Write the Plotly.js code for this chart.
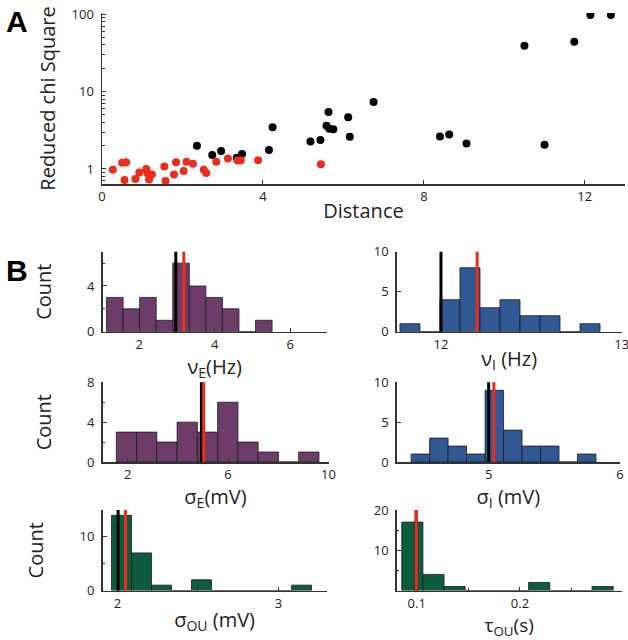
<!DOCTYPE html>
<html>
<head>
<meta charset="utf-8">
<script src="https://cdn.plot.ly/plotly-3.0.1.min.js"></script>
<style>html,body{margin:0;padding:0;background:#fff;}#chart{width:628px;height:640px;}</style>
</head>
<body>
<div id="chart"></div>
<script>
// ---------- Panel A data ----------
const redDistance = [0.27,0.50,0.60,0.56,0.83,0.93,1.10,1.13,1.17,1.24,1.55,1.58,1.79,1.84,2.03,2.10,2.26,2.53,2.59,2.84,3.13,3.37,3.45,3.88,5.44];
const redChi      = [0.98,1.20,1.22,0.72,0.74,0.90,1.00,0.88,0.73,0.85,1.08,0.70,0.85,1.22,0.94,1.24,1.17,0.98,0.89,1.24,1.36,1.29,1.30,1.30,1.15];
const blackDistance = [2.36,2.74,2.96,3.35,3.48,4.15,4.24,5.18,5.43,5.63,5.58,5.65,5.75,6.12,6.16,6.75,8.40,8.63,9.06,10.50,11.00,11.74,12.14,12.65];
const blackChi      = [1.99,1.51,1.71,1.40,1.56,1.76,3.45,2.26,2.36,5.44,3.60,3.30,3.25,4.65,2.60,7.30,2.62,2.78,2.13,39,2.05,44,97,97];
const distTicks = [0,4,8,12];
const chiTicks = [1,10,100];

// ---------- Panel B histograms ----------
const nuE_start = 1.137, nuE_width = 0.438;
const nuE_counts = [3,2,3,1,6,4,3,2,0,1];
const nuE_lines = [2.97, 3.18];        // black, red
const nuI_start = 11.773, nuI_width = 0.1107;
const nuI_counts = [1,0,4,8,3,4,2,2,0,1];
const nuI_lines = [12.0, 12.2];
const sigE_start = 1.55, sigE_width = 0.807;
const sigE_counts = [3,3,2,4,3,6,2,1,0,1];
const sigE_lines = [4.94, 5.03];
const sigI_start = 4.41, sigI_width = 0.1407;
const sigI_counts = [1,3,2,1,9,4,2,2,0,1];
const sigI_lines = [5.0, 5.04];
const sigOU_start = 1.963, sigOU_width = 0.1243;
const sigOU_counts = [14,7,1,0,2,0,0,0,0,1];
const sigOU_lines = [2.004, 2.05];
const tauOU_start = 0.0855, tauOU_width = 0.02048;
const tauOU_counts = [17,4,1,0,0,0,2,0,0,1];
const tauOU_lines = [0.0994, 0.0996];

const PURPLE = '#6e3c69', BLUE = '#2f5895', GREEN = '#0f5b3d';
const RED = '#ec2d1e';
const W = 628, H = 640;
const FONT = 'Open Sans, Noto Sans, sans-serif';
const AX = '#333';

function px(a,b){ return [a/W, b/W]; }
function py(top,bottom){ return [1-bottom/H, 1-top/H]; }

function barTrace(start, width, counts, color, xa, ya){
  const xs = counts.map((c,i)=> start + (i+0.5)*width);
  return {type:'bar', x: xs, y: counts, width: counts.map(()=>width),
    marker:{color: color, line:{color:'#1c1c1c', width:0.8}},
    xaxis: xa, yaxis: ya, hoverinfo:'skip', showlegend:false};
}

const traces = [
  {type:'scatter', mode:'markers', x: blackDistance, y: blackChi,
   marker:{color:'#000', size:8}, xaxis:'x', yaxis:'y', showlegend:false},
  {type:'scatter', mode:'markers', x: redDistance, y: redChi,
   marker:{color:RED, size:8}, xaxis:'x', yaxis:'y', showlegend:false},
  barTrace(nuE_start, nuE_width, nuE_counts, PURPLE, 'x2','y2'),
  barTrace(nuI_start, nuI_width, nuI_counts, BLUE, 'x3','y3'),
  barTrace(sigE_start, sigE_width, sigE_counts, PURPLE, 'x4','y4'),
  barTrace(sigI_start, sigI_width, sigI_counts, BLUE, 'x5','y5'),
  barTrace(sigOU_start, sigOU_width, sigOU_counts, GREEN, 'x6','y6'),
  barTrace(tauOU_start, tauOU_width, tauOU_counts, GREEN, 'x7','y7'),
];

function baseAxis(extra){
  return Object.assign({
    showline:true, linecolor:AX, linewidth:1.5, ticks:'inside', ticklen:4,
    tickcolor:AX, tickwidth:1, showgrid:false, zeroline:false, fixedrange:true,
    ticklabeloverflow:'allow',
    tickfont:{family:FONT, size:13, color:'#222'}
  }, extra);
}
function xTitle(t, so, sz){ return {text:t, font:{family:FONT, size: sz || 20, color:'#222'}, standoff: so}; }
function yTitle(t, so){ return {text:t, font:{family:FONT, size:20, color:'#222'}, standoff: so}; }

const rowTop = [[251.7,331.7],[382.3,462],[510,590.5]];
const L = [102.5, 327], R = [396.7, 621.7];

const layout = {
  width: W, height: H, margin:{l:0,r:0,t:0,b:0},
  paper_bgcolor:'#fff', plot_bgcolor:'rgba(0,0,0,0)',
  font:{family:FONT, color:'#222'},
  bargap:0, showlegend:false,
  xaxis: baseAxis({domain: px(102,625), anchor:'y', range:[0,13], tickvals: distTicks,
    title: xTitle('Distance', 0)}),
  yaxis: baseAxis({domain: py(13,184), anchor:'x', type:'log', range:[-0.194, 2.013],
    tickvals: chiTicks, ticktext: chiTicks.map(String), ticklabelstandoff:4,
    minor:{ticks:'inside', ticklen:2.5, tickcolor:AX, dtick:'D1'},
    title: yTitle('Reduced chi Square', 10)}),

  xaxis2: baseAxis({domain: px(L[0],L[1]), anchor:'y2', range:[1.03,6.97], tickvals:[2,4,6], title: xTitle('ν<sub>E</sub>(Hz)', 0)}),
  yaxis2: baseAxis({domain: py(rowTop[0][0],rowTop[0][1]), anchor:'x2', range:[0,7], tickvals:[0,4], ticklabelstandoff:4,
    minor:{ticks:'inside', ticklen:2.5, tickcolor:AX, tickvals:[2,6]}, title: yTitle('Count', 30)}),
  xaxis3: baseAxis({domain: px(R[0],R[1]), anchor:'y3', range:[11.755,13.0], tickvals:[12,13], title: xTitle('ν<sub>I</sub> (Hz)', 0)}),
  yaxis3: baseAxis({domain: py(rowTop[0][0],rowTop[0][1]), anchor:'x3', range:[0,10], tickvals:[0,5,10], ticklabelstandoff:4}),

  xaxis4: baseAxis({domain: px(L[0],328.5), anchor:'y4', range:[1,10], tickvals:[2,6,10], title: xTitle('σ<sub>E</sub>(mV)', 0)}),
  yaxis4: baseAxis({domain: py(rowTop[1][0],rowTop[1][1]), anchor:'x4', range:[0,8], tickvals:[0,4,8], ticklabelstandoff:4,
    minor:{ticks:'inside', ticklen:2.5, tickcolor:AX, tickvals:[2,6]}, title: yTitle('Count', 30)}),
  xaxis5: baseAxis({domain: px(R[0],620), anchor:'y5', range:[4.30,6.0], tickvals:[5,6], title: xTitle('σ<sub>I</sub> (mV)', 0)}),
  yaxis5: baseAxis({domain: py(rowTop[1][0],rowTop[1][1]), anchor:'x5', range:[0,10], tickvals:[0,5,10], ticklabelstandoff:4}),

  xaxis6: baseAxis({domain: px(L[0],326.7), anchor:'y6', range:[1.907,3.30], tickvals:[2,3],
    minor:{ticks:'inside', ticklen:2.5, tickcolor:AX, tickvals:[2.5]}, title: xTitle('σ<sub>OU</sub> (mV)', 2)}),
  yaxis6: baseAxis({domain: py(rowTop[2][0],rowTop[2][1]), anchor:'x6', range:[0,15], tickvals:[0,10], ticklabelstandoff:4,
    minor:{ticks:'inside', ticklen:2.5, tickcolor:AX, tickvals:[5]}, title: yTitle('Count', 30)}),
  xaxis7: baseAxis({domain: px(R[0],R[1]), anchor:'y7', range:[0.0806,0.2985], tickvals:[0.1,0.2],
    minor:{ticks:'inside', ticklen:2.5, tickcolor:AX, tickvals:[0.15,0.25]}, title: xTitle('τ<sub>OU</sub>(s)', 2, 19)}),
  yaxis7: baseAxis({domain: py(rowTop[2][0],rowTop[2][1]), anchor:'x7', range:[0,20], tickvals:[10,20], ticklabelstandoff:4,
    minor:{ticks:'inside', ticklen:2.5, tickcolor:AX, tickvals:[5,15]}}),

  shapes: [],
  annotations: [
    {text:'<b>A</b>', xref:'paper', yref:'paper', x:4/W, y:1-3/H, xanchor:'left', yanchor:'top',
     showarrow:false, font:{family:'Liberation Sans, Arial, sans-serif', size:30, color:'#000'}},
    {text:'<b>B</b>', xref:'paper', yref:'paper', x:4/W, y:1-252/H, xanchor:'left', yanchor:'top',
     showarrow:false, font:{family:'Liberation Sans, Arial, sans-serif', size:30, color:'#000'}},
  ]
};

const lineSets = [[nuE_lines,'x2','y2'],[nuI_lines,'x3','y3'],[sigE_lines,'x4','y4'],
                  [sigI_lines,'x5','y5'],[sigOU_lines,'x6','y6'],[tauOU_lines,'x7','y7']];
lineSets.forEach(([vals, xa, ya])=>{
  const cols = ['#000', RED];
  vals.forEach((v,i)=>{
    layout.shapes.push({type:'line', xref:xa, yref: ya+' domain', x0:v, x1:v, y0:0, y1:1,
      line:{color: cols[i], width:3}, layer:'above'});
  });
});

Plotly.newPlot('chart', traces, layout, {staticPlot:true, displayModeBar:false});
</script>
</body>
</html>
